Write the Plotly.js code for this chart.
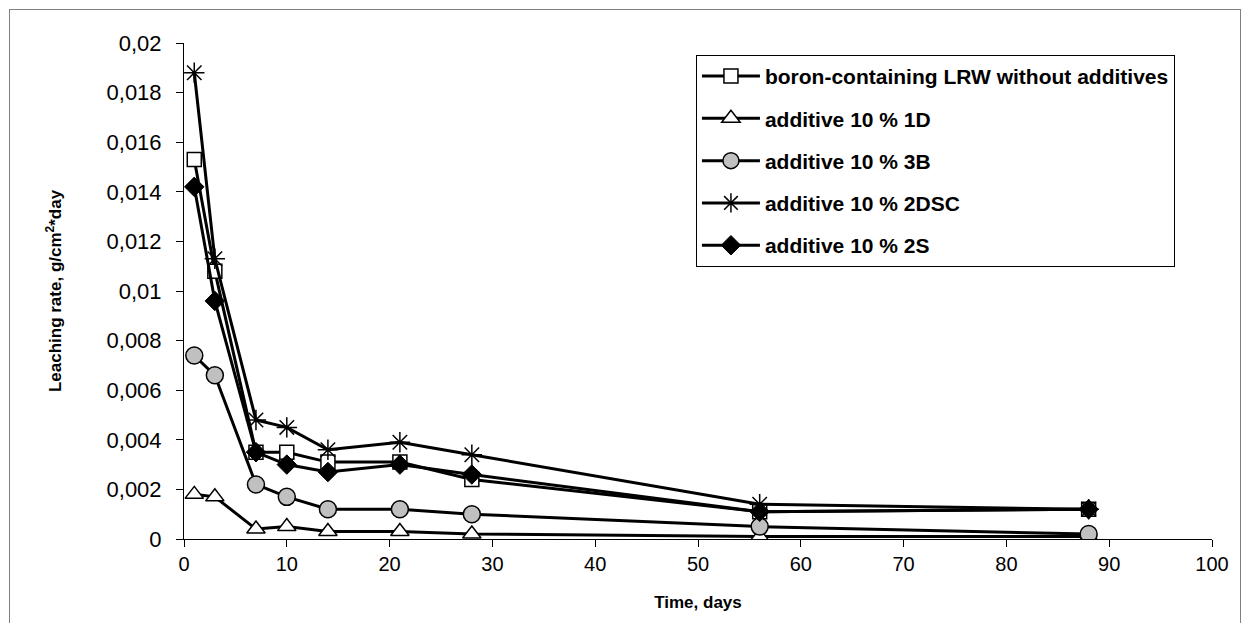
<!DOCTYPE html>
<html>
<head>
<meta charset="utf-8">
<script src="https://cdn.plot.ly/plotly-3.0.1.min.js"></script>
<style>
html,body{margin:0;padding:0;background:#fff;}
#wrap{position:relative;width:1249px;height:623px;overflow:hidden;}
#frame{position:absolute;left:9px;top:9px;width:1230px;height:630px;border:1px solid #7f7f7f;pointer-events:none;}
#chart{position:absolute;left:0;top:0;width:1249px;height:623px;}
</style>
</head>
<body>
<div id="wrap"><div id="chart"></div><div id="frame"></div></div>
<script>
const days = [1, 3, 7, 10, 14, 21, 28, 56, 88];
const seriesNames = [
  "boron-containing LRW without additives",
  "additive 10 % 1D",
  "additive 10 % 3B",
  "additive 10 % 2DSC",
  "additive 10 % 2S"
];
const boronLRW = [0.0153, 0.0108, 0.0035, 0.0035, 0.0031, 0.0031, 0.0024, 0.0011, 0.0012];
const add1D    = [0.0018, 0.0017, 0.0004, 0.0005, 0.0003, 0.0003, 0.0002, 0.0001, 0.0001];
const add3B    = [0.0074, 0.0066, 0.0022, 0.0017, 0.0012, 0.0012, 0.0010, 0.0005, 0.0002];
const add2DSC  = [0.0188, 0.0113, 0.0048, 0.0045, 0.0036, 0.0039, 0.0034, 0.0014, 0.0012];
const add2S    = [0.0142, 0.0096, 0.0035, 0.0030, 0.0027, 0.0030, 0.0026, 0.0011, 0.0012];

const yTickVals = [0, 0.002, 0.004, 0.006, 0.008, 0.01, 0.012, 0.014, 0.016, 0.018, 0.02];
const yTickText = ["0", "0,002", "0,004", "0,006", "0,008", "0,01", "0,012", "0,014", "0,016", "0,018", "0,02"];
const xTickVals = [0, 10, 20, 30, 40, 50, 60, 70, 80, 90, 100];

const lineStyle = {color: "#000", width: 3};
const markerStyles = [
  {symbol: "square", size: 14, color: "#fff", line: {color: "#000", width: 1.5}},
  {symbol: "triangle-up", size: 16, color: "#fff", line: {color: "#000", width: 1.5}},
  {symbol: "circle", size: 17, color: "#c0c0c0", line: {color: "#000", width: 1.5}},
  {symbol: "asterisk-open", size: 17, color: "#000", line: {color: "#000", width: 1.5}},
  {symbol: "diamond", size: 15, color: "#000", line: {color: "#000", width: 1}}
];
const allY = [boronLRW, add1D, add3B, add2DSC, add2S];

const traces = allY.map((ys, i) => ({
  x: days,
  y: ys,
  name: seriesNames[i],
  type: "scatter",
  mode: "lines+markers",
  line: lineStyle,
  marker: markerStyles[i],
  legendgroup: "g" + i
}));

const layout = {
  width: 1249,
  height: 623,
  margin: {l: 184, r: 37, t: 43, b: 84},
  paper_bgcolor: "#fff",
  plot_bgcolor: "#fff",
  font: {family: "Arial, 'Liberation Sans', sans-serif", color: "#000"},
  showlegend: true,
  legend: {
    x: 0.498, y: 0.976, xanchor: "left", yanchor: "top",
    bgcolor: "#fff", bordercolor: "#000", borderwidth: 1,
    font: {size: 21, family: "Arial, 'Liberation Sans', sans-serif", weight: "bold"},
    traceorder: "grouped",
    tracegroupgap: 12,
    itemwidth: 58
  },
  xaxis: {
    range: [0, 100],
    tickvals: xTickVals,
    ticks: "outside", ticklen: 7, tickcolor: "#000", tickwidth: 1,
    showline: true, linecolor: "#000", linewidth: 1,
    showgrid: false, zeroline: false,
    tickfont: {size: 20},
    title: {text: "<b>Time, days</b>", font: {size: 17}, standoff: 22}
  },
  yaxis: {
    range: [0, 0.02],
    tickvals: yTickVals,
    ticktext: yTickText,
    ticks: "outside", ticklen: 7, tickcolor: "#000", tickwidth: 1,
    ticklabelstandoff: 10,
    showline: true, linecolor: "#000", linewidth: 1,
    showgrid: false, zeroline: false,
    tickfont: {size: 22},
    title: {text: "<b>Leaching rate, g/cm<sup>2</sup>*day</b>", font: {size: 17}, standoff: 40}
  }
};

Plotly.newPlot("chart", traces, layout, {displayModeBar: false, staticPlot: true});
</script>
</body>
</html>
